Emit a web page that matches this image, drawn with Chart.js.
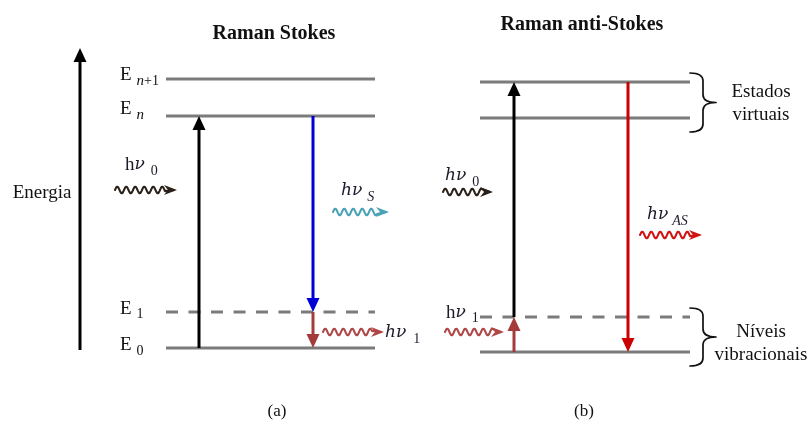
<!DOCTYPE html>
<html>
<head>
<meta charset="utf-8">
<script src="https://cdn.jsdelivr.net/npm/chart.js@4"></script>
<style>
  html, body { margin: 0; padding: 0; background: #fff; }
  canvas { display: block; }
</style>
</head>
<body>
<canvas id="c" width="810" height="427"></canvas>
<script>
// ---- Energy levels (energy units; ground state of the Stokes panel = 0) ----
const stokesLevels = ['E 0', 'E 1', 'E n', 'E n+1'];
const stokesEnergy = [0, 36, 232, 269];
const antiStokesLevels = ['v0', 'v1', 'virtual 1', 'virtual 2'];
const antiStokesEnergy = [-4, 31, 230, 266];
const dashedLevel = 1;               // E1 is drawn dashed

// ---- Transitions: start level index -> end level index ----
const stokesFrom = [0, 2, 1];        // pump up, Stokes emission, relaxation
const stokesTo   = [2, 1, 0];
const antiStokesFrom = [1, 0, 3];    // pump up from E1, thermal E0->E1, anti-Stokes emission
const antiStokesTo   = [3, 1, 0];

// ---- Photons (wavy arrows) and their labels ----
const photonNames  = ['hν0 (a)', 'hνS', 'hν1 (a)', 'hν0 (b)', 'hνAS', 'hν1 (b)'];
const photonEnergy = [158, 136, 16, 156, 113, 16];

// ---- Text ----
const titles = ['Raman Stokes', 'Raman anti-Stokes'];
const panelTags = ['(a)', '(b)'];
const axisLabel = 'Energia';
const braceLabels = [['Estados', 'virtuais'], ['Níveis', 'vibracionais']];

// ---- Layout (x in canvas units 0..810, y in energy units) ----
const layout = {
  a: { x0: 166, x1: 375, arrowX: [199, 313, 313] },
  b: { x0: 480, x1: 690, arrowX: [514, 514, 628] },
  axisArrow: { x: 80, from: -2, to: 300 },
  photonX: [[115, 177], [333, 389], [323, 384], [443, 493], [640, 702], [445, 504]],
  titlePos: [[274, 314], [582, 323]],
  tagPos: [[277, -64], [584, -64]],
  axisLabelPos: [42, 155],
  levelLabelX: 120,
  levelLabelY: [3, 39, 239, 273],
  braceX: [690, 716],
  braceTextX: 761,
  braceTextY: [[256, 233], [16, -7]],
  photonLabelPos: [[125, 183], [341, 157], [385, 15], [445, 172], [647, 133], [446, 35]]
};

const styles = {
  level: '#7b7b7b',
  transA: ['#000000', '#0000d6', '#a43b3b'],
  transB: ['#000000', '#a43b3b', '#cc0000'],
  photon: ['#2b2119', '#4aa2b6', '#b04646', '#2b2119', '#d01313', '#b04646'],
  serif: '"Liberation Serif", "DejaVu Serif", serif',
  math: '"DejaVu Serif", "Liberation Serif", serif'
};

// line datasets for the horizontal energy levels
function levelDatasets(energies, span) {
  return energies.map((e, i) => ({
    data: [{ x: span.x0, y: e }, { x: span.x1, y: e }],
    showLine: true,
    borderColor: styles.level,
    borderWidth: 3,
    borderDash: i === dashedLevel ? [12, 10.5] : [],
    pointRadius: 0,
    fill: false
  }));
}

const diagram = {
  id: 'diagram',
  beforeDraw(chart) {
    const ctx = chart.ctx;
    ctx.save();
    ctx.fillStyle = '#fff';
    ctx.fillRect(0, 0, chart.width, chart.height);
    ctx.restore();
  },
  afterDatasetsDraw(chart) {
    const ctx = chart.ctx;
    const sx = chart.scales.x, sy = chart.scales.y;
    const X = v => sx.getPixelForValue(v);
    const Y = v => sy.getPixelForValue(v);
    ctx.save();

    // straight arrow with filled head
    function arrow(xv, eFrom, eTo, color, lw) {
      const px = X(xv), p0 = Y(eFrom), p1 = Y(eTo);
      const dir = p1 < p0 ? -1 : 1;
      const headL = 14, headW = 6.5;
      ctx.strokeStyle = color;
      ctx.fillStyle = color;
      ctx.lineWidth = lw;
      ctx.lineCap = 'butt';
      ctx.beginPath();
      ctx.moveTo(px, p0);
      ctx.lineTo(px, p1 - dir * (headL - 2));
      ctx.stroke();
      ctx.beginPath();
      ctx.moveTo(px, p1);
      ctx.lineTo(px - headW, p1 - dir * headL);
      ctx.lineTo(px + headW, p1 - dir * headL);
      ctx.closePath();
      ctx.fill();
    }

    // wavy photon arrow
    function photon(xr, e, color) {
      const px0 = X(xr[0]), px1 = X(xr[1]), py = Y(e);
      const head = 13, amp = 3.3, wl = 9;
      ctx.strokeStyle = color;
      ctx.fillStyle = color;
      ctx.lineWidth = 2.1;
      ctx.lineJoin = 'round';
      ctx.lineCap = 'round';
      ctx.beginPath();
      const end = px1 - head + 1;
      for (let p = px0; p <= end; p += 0.5) {
        const yy = py - amp * Math.sin((p - px0) / wl * 2 * Math.PI);
        if (p === px0) ctx.moveTo(p, yy); else ctx.lineTo(p, yy);
      }
      ctx.lineTo(px1 - 3, py);
      ctx.stroke();
      ctx.beginPath();
      ctx.moveTo(px1, py);
      ctx.lineTo(px1 - head, py - 5);
      ctx.lineTo(px1 - head + 4, py);
      ctx.lineTo(px1 - head, py + 5);
      ctx.closePath();
      ctx.fill();
    }

    // right-pointing curly brace
    function brace(xl, xr, eTop, eMid, eBot) {
      const x0 = X(xl), x1 = X(xr), yt = Y(eTop), ym = Y(eMid), yb = Y(eBot);
      const xm = (x0 + x1) / 2, r = 8;
      ctx.strokeStyle = '#111';
      ctx.lineWidth = 1.7;
      ctx.lineCap = 'round';
      ctx.beginPath();
      ctx.moveTo(x0, yt);
      ctx.quadraticCurveTo(xm, yt, xm, yt + r);
      ctx.lineTo(xm, ym - r);
      ctx.quadraticCurveTo(xm, ym, x1, ym);
      ctx.quadraticCurveTo(xm, ym, xm, ym + r);
      ctx.lineTo(xm, yb - r);
      ctx.quadraticCurveTo(xm, yb, x0, yb);
      ctx.stroke();
    }

    // text made of runs: [text, size, italic, family, dx, dy]
    function runs(xv, e, parts, color) {
      let px = X(xv);
      const py = Y(e);
      ctx.fillStyle = color;
      ctx.textBaseline = 'middle';
      ctx.textAlign = 'left';
      parts.forEach(([t, size, it, fam, dx, dy]) => {
        ctx.font = (it ? 'italic ' : '') + size + 'px ' + (fam || styles.serif);
        px += dx || 0;
        ctx.fillText(t, px, py + (dy || 0));
        px += ctx.measureText(t).width;
      });
    }

    function centered(xv, e, text, size, bold, color) {
      ctx.fillStyle = color;
      ctx.textBaseline = 'middle';
      ctx.textAlign = 'center';
      ctx.font = (bold ? 'bold ' : '') + size + 'px ' + styles.serif;
      ctx.fillText(text, X(xv), Y(e));
    }

    // energy axis
    const ax = layout.axisArrow;
    arrow(ax.x, ax.from, ax.to, '#000', 3);

    // transitions
    stokesFrom.forEach((f, i) => {
      arrow(layout.a.arrowX[i], stokesEnergy[f], stokesEnergy[stokesTo[i]], styles.transA[i], 3);
    });
    antiStokesFrom.forEach((f, i) => {
      arrow(layout.b.arrowX[i], antiStokesEnergy[f], antiStokesEnergy[antiStokesTo[i]], styles.transB[i], 3);
    });

    // photons
    photonEnergy.forEach((e, i) => photon(layout.photonX[i], e, styles.photon[i]));

    // braces around the anti-Stokes level pairs
    const pairs = [[antiStokesEnergy[3], antiStokesEnergy[2]], [antiStokesEnergy[1], antiStokesEnergy[0]]];
    pairs.forEach(([hi, lo]) => {
      const top = hi + 9, bot = lo - 14;
      brace(layout.braceX[0], layout.braceX[1], top, (top + bot) / 2, bot);
    });

    // titles, tags, axis label
    titles.forEach((t, i) => centered(layout.titlePos[i][0], layout.titlePos[i][1], t, 20, true, '#111'));
    panelTags.forEach((t, i) => centered(layout.tagPos[i][0], layout.tagPos[i][1], t, 17, false, '#111'));
    centered(layout.axisLabelPos[0], layout.axisLabelPos[1], axisLabel, 19, false, '#111');
    braceLabels.forEach((lines, i) => lines.forEach((t, j) =>
      centered(layout.braceTextX, layout.braceTextY[i][j], t, 19, false, '#111')));

    // level labels (Stokes panel)
    const lx = layout.levelLabelX, ly = layout.levelLabelY;
    runs(lx, ly[0], [['E', 19], ['0', 14, false, null, 5, 6]], '#111');
    runs(lx, ly[1], [['E', 19], ['1', 14, false, null, 5, 5]], '#111');
    runs(lx, ly[2], [['E', 19], ['n', 15, true, null, 5, 6]], '#111');
    runs(lx, ly[3], [['E', 19], ['n', 15, true, null, 5, 6], ['+1', 14, false, null, 0, 6]], '#111');

    // photon labels
    const pl = layout.photonLabelPos, tc = '#1b1b2c', m = styles.math;
    runs(pl[0][0], pl[0][1], [['h', 19], ['ν', 17, true, m], ['0', 14, false, null, 6, 6]], tc);
    runs(pl[1][0], pl[1][1], [['hν', 17, true, m], ['S', 14, true, null, 5, 6]], tc);
    runs(pl[2][0], pl[2][1], [['hν', 17, true, m], ['1', 14, false, null, 7, 6]], tc);
    runs(pl[3][0], pl[3][1], [['hν', 17, true, m], ['0', 14, false, null, 6, 6]], tc);
    runs(pl[4][0], pl[4][1], [['hν', 17, true, m], ['AS', 14, true, null, 4, 6]], tc);
    runs(pl[5][0], pl[5][1], [['h', 19], ['ν', 17, true, m], ['1', 14, false, null, 6, 5]], tc);

    ctx.restore();
  }
};

new Chart(document.getElementById('c'), {
  type: 'scatter',
  data: {
    datasets: [
      ...levelDatasets(stokesEnergy, layout.a),
      ...levelDatasets(antiStokesEnergy, layout.b)
    ]
  },
  options: {
    responsive: false,
    animation: false,
    layout: { padding: 0 },
    scales: {
      x: { type: 'linear', display: false, min: 0, max: 810 },
      y: { type: 'linear', display: false, min: -79, max: 348 }
    },
    plugins: { legend: { display: false }, tooltip: { enabled: false } },
    elements: { line: { tension: 0 } }
  },
  plugins: [diagram]
});
</script>
</body>
</html>
